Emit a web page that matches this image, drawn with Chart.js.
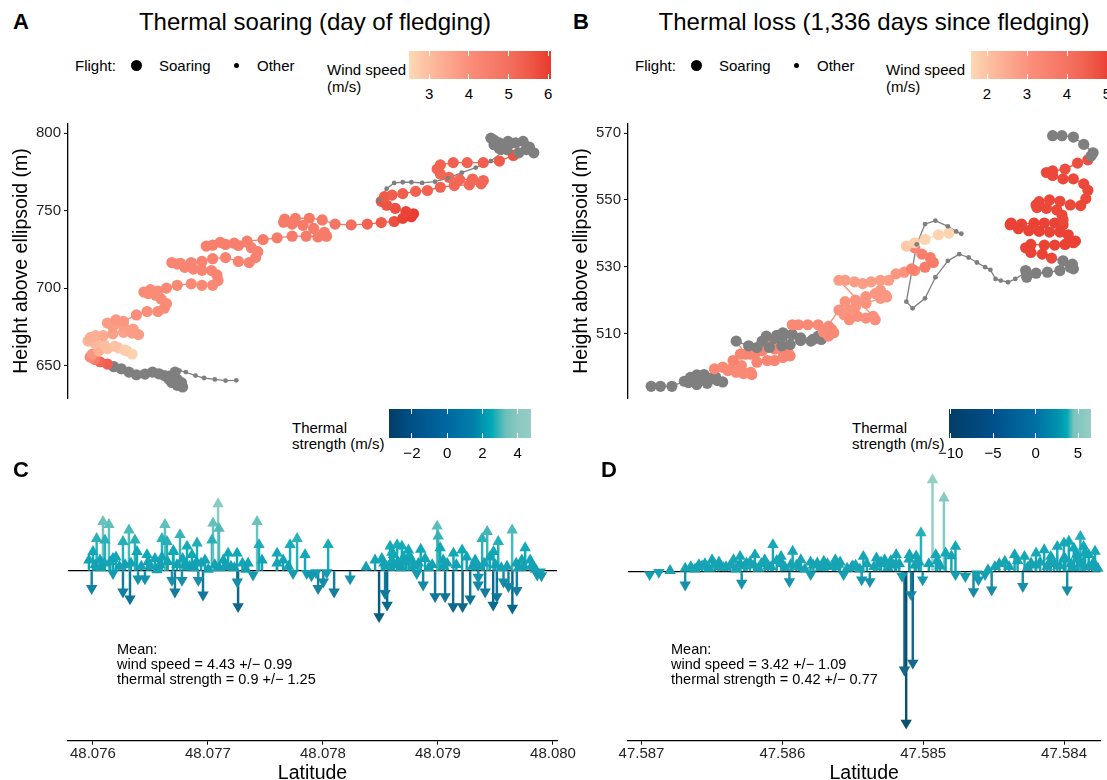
<!DOCTYPE html>
<html>
<head>
<meta charset="utf-8">
<title>Thermal soaring and thermal loss</title>
<script src="https://cdn.jsdelivr.net/npm/chart.js@4.4.1/dist/chart.umd.min.js"></script>
<style>
  body { margin:0; width:1107px; height:780px; overflow:hidden; background:#fff; position:relative;
         font-family:"Liberation Sans", Arial, sans-serif; color:#000; }
  canvas { position:absolute; }
  .t { position:absolute; white-space:nowrap; line-height:1; }
  .tag { font-weight:bold; font-size:22px; }
  .title { font-size:24px; transform:translateX(-50%); }
  .leg { font-size:15px; }
  .mean { font-size:14.5px; }
  .dot { position:absolute; border-radius:50%; background:#000; }
</style>
</head>
<body>
<canvas id="chartA" width="560" height="300" style="left:0;top:110px"></canvas>
<canvas id="chartB" width="547" height="300" style="left:560px;top:110px"></canvas>
<canvas id="chartC" width="600" height="330" style="left:0;top:460px"></canvas>
<canvas id="chartD" width="547" height="330" style="left:560px;top:460px"></canvas>

<div class="t tag" style="left:13px;top:11px">A</div>
<div class="t tag" style="left:573px;top:11px">B</div>
<div class="t tag" style="left:13px;top:459px">C</div>
<div class="t tag" style="left:601px;top:459px">D</div>
<div class="t title" style="left:315px;top:10px">Thermal soaring (day of fledging)</div>
<div class="t title" style="left:874px;top:10px">Thermal loss (1,336 days since fledging)</div>

<div class="t mean" style="left:117px;top:642px;line-height:15px">Mean:<br>wind speed = 4.43 +/− 0.99<br>thermal strength = 0.9 +/− 1.25</div>
<div class="t mean" style="left:671px;top:642px;line-height:15px">Mean:<br>wind speed = 3.42 +/− 1.09<br>thermal strength = 0.42 +/− 0.77</div>

<script>
// ---------- panel A: track on the day of fledging ----------
// [east offset, height above ellipsoid (m)]  (+ wind speed m/s where measured)
const aOtherStart = [[220,640.5],[210,640.3],[200,641.1],[190,642.0],[182,643.6],[173,645.8],[167,646.8],[163,647.5]];
const aSoarGreyLow = [[163,645.8],[158,643.2],[157,641.5],[160,639.0],[165,637.3],[170,636.2],[169,639.0],[165,641.1],
  [159,642.6],[153,643.6],[148,644.7],[142,645.8],[135,644.5],[127,644.1],[120,645.8],[113,647.9],[106,649.3]];
const aSoarWind = [
  [100,651.0,5.4],[93,652.5,5.2],[88,654.0,4.6],[84,655.5,4.2],[86,657.5,3.8],[92,659.5,3.3],[100,661.0,3.0],[110,661.5,2.8],
  [118,659.5,2.7],[123,657.5,2.6],[116,660.0,2.7],[107,662.5,2.9],[97,663.5,3.0],[88,664.5,3.1],[82,665.8,3.2],[84,668.0,3.3],
  [89,669.3,3.3],[96,669.3,3.4],[105,670.5,3.6],[115,671.5,3.6],[123,671.0,3.7],[129,670.0,3.7],[124,673.5,3.7],[115,675.5,3.7],
  [105,675.0,3.7],[100,677.5,3.7],[108,679.6,3.8],[115,678.5,3.8],[127,682.7,4.0],[137,684.9,4.0],[147,684.9,4.1],[153,687.0,4.1],
  [155,690.0,4.1],[150,693.0,4.1],[145,695.4,4.1],[138,696.5,4.1],[134,697.5,4.1],[140,699.0,4.1],[147,698.0,4.1],[155,700.0,4.2],
  [165,701.8,4.2],[178,702.8,4.2],[188,701.8,4.2],[198,701.8,4.2],[203,704.9,4.2],[202,708.5,4.3],[197,711.3,4.3],[188,711.5,4.3],
  [180,712.3,4.3],[172,713.4,4.3],[165,715.5,4.3],[160,716.5,4.3],[168,716.0,4.3],[178,716.5,4.3],[188,717.2,4.4],[198,719.0,4.4],
  [210,719.7,4.4],[222,717.2,4.4],[232,716.5,4.4],[238,719.7,4.4],[240,723.5,4.4],[234,726.1,4.4],[222,727.5,4.5],[210,728.2,4.5],
  [198,727.7,4.5],[192,727.1,4.5],[205,729.5,4.5],[218,729.0,4.5],[230,730.3,4.5],[245,731.3,4.6],[258,732.4,4.6],[272,733.5,4.6],
  [285,733.5,4.6],[296,733.0,4.6],[304,733.5,4.6],[302,736.0,4.6],[292,738.5,4.6],[282,740.5,4.6],[272,741.3,4.6],[264,742.5,4.6],
  [265,744.5,4.6],[275,745.0,4.6],[288,745.1,4.7],[300,744.0,4.7],[312,741.3,4.8],[327,740.8,5.0],[342,741.3,5.3],[355,742.3,5.5],
  [367,743.0,5.7],[375,745.0,5.9],[383,746.1,6.0],[385,748.0,6.0],[378,749.3,5.9],[368,751.5,5.7],[360,753.5,5.6],[355,756.0,5.6],
  [358,759.0,5.5],[365,760.0,5.4],[375,761.0,5.4],[387,762.4,5.3],[398,763.0,5.3],[410,765.1,5.3],[423,766.2,5.2],[437,766.6,5.2],
  [448,767.3,5.2],[450,769.4,5.2],[440,770.4,5.2],[428,770.0,5.2],[418,771.5,5.2],[410,773.6,5.2],[407,776.8,5.3],[410,779.5,5.3],
  [422,781.0,5.3],[435,781.0,5.3],[450,781.0,5.4],[465,782.0,5.5],[478,785.6,5.6]];
const aSoarGreyTop = [[483,787.3],[490,789.4],[497,787.3],[493,791.0],[487,794.7],[480,793.7],[473,794.7],[465,793.7],
  [460,795.5],[457,796.8],[460,792.5],[465,790.0],[472,789.4]];
const aOtherTop = [[485,794.7],[477,791.6],[467,787.3],[457,782.0],[443,777.8],[430,774.5],[417,771.0],[405,768.7],
  [393,767.9],[383,768.3],[375,768.3],[367,767.9],[360,764.2],[353,756.7]];
const aHeightTicks = [650, 700, 750, 800];
const aWindTicks = [3, 4, 5, 6];

// ---------- panel B: track 1,336 days after fledging ----------
const bSoarGreyLow = [[86,494.3],[95,494.3],[106,494.3],[118,495.8],[124,497.0],[130,497.7],[137,497.8],[144,496.6],
  [150,496.0],[155,495.6],[146,497.0],[138,496.2],[128,496.5],[122,495.4],[130,494.8],[140,495.2],[148,497.2]];
const bSoarWindLow = [[147,499.5,3.3],[155,500.0,3.3],[163,499.5,3.3],[173,500.5,3.3],[182,498.5,3.3],[183,497.8,3.3],
  [175,498.1,3.3],[168,498.5,3.3],[160,499.0,3.3],[165,502.0,3.4],[172,503.9,3.4],[182,503.9,3.4],[188,501.5,3.4],
  [198,502.0,3.4],[205,502.0,3.4],[213,502.9,3.4],[220,503.4,3.4],[218,504.4,3.4],[213,504.9,3.4],[205,505.4,3.4],
  [200,506.4,3.4],[193,504.9,3.4],[187,504.4,3.4],[177,503.9,3.4]];
const bSoarGreyMid = [[168,507.8],[180,506.4],[188,505.9],[200,505.9],[212,506.4],[220,506.8],[213,509.3],[207,509.5],
  [197,509.3],[193,507.8],[205,508.6],[213,510.3],[222,509.8],[230,508.8],[240,507.8],[250,508.3],[247,509.3],[242,508.3],[230,508.0]];
const bSoarWindMid = [[222,512.7,3.3],[228,512.7,3.3],[237,512.7,3.3],[247,512.7,3.3],[257,512.2,3.3],[260,511.3,3.3],
  [262,510.3,3.3],[257,509.3,3.3],[252,510.5,3.2],[267,517.1,3.0],[273,519.6,3.0],[283,520.1,3.0],[293,521.1,3.0],
  [302,522.0,2.9],[307,523.0,2.9],[312,521.5,2.9],[313,521.0,2.9],[307,520.6,2.9],[293,519.1,3.0],[283,518.1,3.0],
  [277,517.1,3.0],[272,515.7,3.0],[277,514.2,3.1],[285,515.2,3.1],[293,514.7,3.1],[302,514.2,3.1],[300,515.2,3.1],
  [267,526.0,2.8],[273,526.0,2.8],[282,525.5,2.8],[290,525.0,2.8],[298,525.5,2.8],[307,526.0,2.8],[315,526.0,2.8],
  [322,527.9,2.9],[330,528.4,3.0],[340,528.9,3.3],[337,529.4,3.6],[350,529.9,3.7],[358,531.3,3.7],[355,532.8,3.7],
  [347,533.8,3.6],[340,535.7,3.4],[332,536.2,1.9],[340,537.2,1.8],[350,538.2,1.7],[363,539.6,1.7],[373,540.1,1.7]];
const bOtherMid = [[385,539.9],[380,540.6],[372,542.1],[360,543.8],[350,542.8],[342,536.7],[332,519.6],[338,517.6],
  [350,520.6],[360,526.9],[372,531.8],[383,533.8],[392,532.8],[400,531.3],[408,529.9],[413,529.1],[418,526.4],
  [423,525.9],[430,525.4],[437,526.4],[445,527.9]];
const bSoarGreyRight = [[447,528.9],[448,526.9],[457,528.1],[468,528.4],[480,528.9],[490,529.9],[493,529.4],[492,530.8],[483,531.8]];
const bSoarWindHigh = [[472,532.6,4.9],[463,533.8,5.0],[452,534.3,5.0],[447,535.7,5.0],[452,536.7,5.0],[465,536.5,5.0],
  [475,536.5,5.0],[485,536.7,5.0],[493,537.2,5.0],[495,537.7,5.0],[488,539.6,5.0],[480,540.4,5.0],[470,540.4,5.0],
  [460,540.6,5.0],[450,540.8,5.0],[440,541.4,5.0],[432,542.6,5.0],[433,543.1,5.0],[443,542.8,5.0],[455,543.1,5.0],
  [465,543.1,5.0],[475,543.1,5.0],[483,542.6,5.0],[483,544.1,4.9],[482,545.5,4.9],[477,547.0,4.9],[467,547.5,4.9],
  [458,547.7,4.9],[457,548.5,4.9],[460,549.5,4.9],[470,550.0,4.9],[480,549.6,4.9],[490,548.5,4.9],[500,548.3,4.9],
  [505,550.4,4.9],[507,552.9,4.9],[503,554.8,4.9],[493,556.3,4.9],[483,556.3,4.9],[473,557.3,4.9],[467,558.2,4.9],
  [473,558.7,4.9],[485,559.2,4.8],[497,561.0,4.8],[507,562.0,4.8]];
const bSoarGreyTop = [[510,563.1],[512,564.1],[503,566.6],[493,568.8],[482,569.2],[473,569.2]];
const bHeightTicks = [510, 530, 550, 570];
const bWindTicks = [2, 3, 4, 5];

// ---------- panels C / D: thermal strength (m/s) along latitude ----------
const cArrows = [
  [48.075989,-1.13],[48.075965,0.70],[48.076000,1.25],[48.076032,2.10],[48.076087,3.20],[48.076139,3.00],[48.076104,2.00],
  [48.076061,0.70],[48.076174,-0.15],[48.076174,0.80],[48.076261,-1.35],[48.076261,1.90],[48.076322,-1.80],[48.076313,2.65],
  [48.076365,2.00],[48.076383,1.25],[48.076392,-0.50],[48.076452,-0.50],[48.076470,1.05],[48.076539,0.80],[48.076557,0.07],
  [48.076600,2.10],[48.076626,3.00],[48.076644,1.90],[48.076687,-0.60],[48.076713,-1.35],[48.076696,1.25],[48.076757,2.35],
  [48.076774,-0.60],[48.076818,1.60],[48.076861,1.05],[48.076905,1.80],[48.076916,-0.60],[48.076957,-1.55],[48.076974,0.70],
  [48.077003,0.10],[48.077035,2.00],[48.077044,3.10],[48.077088,4.35],[48.077096,2.75],[48.077134,0.70],[48.077175,1.15],
  [48.077253,1.15],[48.077255,-0.70],[48.077262,-2.30],[48.077349,0.50],[48.077392,-0.25],[48.077427,3.20],[48.077444,1.70],
  [48.077470,0.70],[48.077601,1.15],[48.077654,0.70],[48.077714,1.70],[48.077740,-0.15],[48.077775,2.10],[48.077844,1.05],
  [48.077859,-0.15],[48.077940,-0.10],[48.077958,-1.13],[48.078003,-0.70],[48.078033,-0.10],[48.078045,1.70],[48.078097,-1.35],
  [48.078236,-0.50],[48.078375,0.25],[48.078453,0.70],[48.078488,-2.95],[48.078512,0.80],[48.078540,-1.45],[48.078558,-2.20],
  [48.078584,1.60],[48.078613,1.05],[48.078645,1.70],[48.078686,1.60],[48.078700,0.90],[48.078743,1.35],[48.078773,0.70],
  [48.078816,-0.15],[48.078871,-0.90],[48.078888,0.80],[48.078975,-1.65],[48.078993,2.90],[48.079002,2.25],[48.079019,1.50],
  [48.079045,0.70],[48.079062,-1.65],[48.079132,-2.30],[48.079135,1.15],[48.079210,1.35],[48.079214,-2.30],[48.079280,-1.80],
  [48.079323,0.70],[48.079349,-0.90],[48.079384,2.10],[48.079410,-1.35],[48.079428,2.55],[48.079480,-2.20],[48.079483,1.25],
  [48.079512,-1.65],[48.079524,1.90],[48.079570,-0.70],[48.079613,-1.00],[48.079645,2.65],[48.079647,-2.40],[48.079686,-1.25],
  [48.079729,0.70],[48.079758,1.50],[48.079802,0.70],[48.079863,-0.25],[48.079889,-0.05],
  [48.076100,0.50],[48.076200,0.90],[48.076280,0.40],[48.076500,0.30],[48.076600,0.90],[48.076700,1.30],[48.076800,0.40],
  [48.076900,0.60],[48.077100,0.20],[48.077200,0.30],[48.077300,0.50],[48.077600,0.50],[48.077700,0.30],[48.077900,-0.30],
  [48.078600,1.20],[48.078650,0.60],[48.078750,1.00],[48.078850,1.40],[48.078950,0.40],[48.079050,0.30],[48.079250,0.90],
  [48.079350,0.30],[48.079450,0.90],[48.079550,0.20],[48.079750,0.30],[48.079900,-0.30],[48.079350,-0.40],
  [48.076020,0.40],[48.076070,0.20],[48.076150,0.60],[48.076230,0.30],[48.076330,0.50],[48.076420,0.30],[48.076480,0.60],
  [48.076580,0.40],[48.076650,0.60],[48.076730,0.40],[48.076780,0.80],[48.076840,0.30],[48.076880,0.20],[48.076940,0.50],
  [48.077060,0.40],[48.077150,0.30],[48.077230,0.20],[48.077330,0.10],[48.078530,0.50],[48.078570,0.30],[48.078620,0.40],
  [48.078680,0.20],[48.078720,0.60],[48.078790,0.30],[48.078830,0.50],[48.078920,0.20],[48.079080,0.50],[48.079160,0.40],
  [48.079300,0.30],[48.079400,0.50],[48.079500,0.40],[48.079600,0.30],[48.079680,0.50],[48.079700,0.20],[48.079820,0.40],
  [48.079850,0.10]];
const dArrows = [
  [47.586942,-0.20],[47.586877,-0.05],[47.586797,0.05],[47.586690,-0.87],[47.586690,0.20],[47.586650,0.30],[47.586592,0.43],
  [47.586499,0.75],[47.586452,0.30],[47.586347,0.75],[47.586300,0.97],[47.586289,-0.76],[47.586254,0.54],[47.586195,1.08],
  [47.586125,0.75],[47.586067,1.73],[47.586009,0.97],[47.585950,-0.65],[47.585927,1.30],[47.585869,0.75],[47.585799,-0.20],
  [47.585752,0.54],[47.585706,0.65],[47.585624,0.75],[47.585565,-0.20],[47.585507,0.30],[47.585437,-0.54],[47.585425,0.97],
  [47.585379,-0.65],[47.585332,0.87],[47.585274,0.75],[47.585192,1.08],[47.585133,-6.40],[47.585121,-9.85],[47.585086,-1.50],
  [47.585074,-5.95],[47.585098,1.08],[47.585016,2.50],[47.585004,-0.54],[47.584934,5.95],[47.584911,1.08],[47.584853,4.76],
  [47.584841,1.19],[47.584771,1.62],[47.584771,-0.20],[47.584701,-0.32],[47.584643,-1.30],[47.584608,-0.54],[47.584561,-0.20],
  [47.584514,-1.19],[47.584491,0.30],[47.584421,0.65],[47.584351,1.08],[47.584293,-0.97],[47.584281,0.97],[47.584234,0.54],
  [47.584199,1.19],[47.584141,1.40],[47.584094,0.97],[47.584048,1.62],[47.584001,1.84],[47.583978,-1.19],[47.583966,1.95],
  [47.583931,1.51],[47.583884,2.27],[47.583861,1.62],[47.583825,1.08],[47.583825,0.30],
  [47.586600,0.30],[47.586550,0.50],[47.586450,0.60],[47.586400,0.30],[47.586300,0.50],[47.586200,0.40],[47.586100,0.35],
  [47.586000,0.50],[47.585900,0.40],[47.585800,0.60],[47.585700,0.30],[47.585600,0.45],[47.585500,0.35],[47.585400,0.50],
  [47.585300,0.60],[47.585200,0.40],[47.585100,0.80],[47.585050,1.00],[47.584900,0.70],[47.584800,1.00],[47.584200,0.40],
  [47.584100,0.60],[47.584000,0.90],[47.583950,0.50],[47.583900,0.80],[47.583850,1.20],[47.583800,0.30],[47.583780,1.30],
  [47.586620,0.15],[47.586570,0.35],[47.586520,0.20],[47.586480,0.45],[47.586420,0.25],[47.586370,0.40],[47.586330,0.15],
  [47.586270,0.35],[47.586230,0.60],[47.586170,0.20],[47.586150,0.50],[47.586080,0.30],[47.586040,0.70],[47.585980,0.25],
  [47.585940,0.45],[47.585880,0.30],[47.585840,0.15],[47.585780,0.40],[47.585730,0.25],[47.585680,0.50],[47.585640,0.30],
  [47.585590,0.60],[47.585540,0.20],[47.585480,0.40],[47.585450,0.15],[47.585350,0.30],[47.585310,0.50],[47.585250,0.25],
  [47.585230,0.70],[47.585170,0.50],[47.585150,-0.30],[47.585060,0.40],[47.585030,0.60],[47.584960,0.50],[47.584880,0.35],
  [47.584620,-0.15],[47.584540,0.10],[47.584460,0.50],[47.584390,0.30],[47.584330,0.70],[47.584260,0.25],[47.584170,0.60],
  [47.584120,0.30],[47.584070,0.50],[47.584030,0.35],[47.583990,0.80],[47.583940,0.25],[47.583910,1.10],[47.583870,0.50],
  [47.583790,0.60],[47.583760,0.20]];
const cLatTicks = [48.076, 48.077, 48.078, 48.079, 48.080];
const dLatTicks = [47.587, 47.586, 47.585, 47.584];
const cThermalTicks = [-2, 0, 2, 4];
const dThermalTicks = [-10, -5, 0, 5];

// colour ramps  [value, colour]
const GREY = '#7f7f7f';
const aWindStops = [[2.49,'#fdd9b4'],[3.0,'#fdbd9f'],[4.0,'#fa8e7a'],[5.0,'#f46f5e'],[5.5,'#ef5a49'],[6.07,'#e8392e']];
const bWindStops = [[1.6,'#fdd9b4'],[2.1,'#fdbd9f'],[3.1,'#fa8e7a'],[4.1,'#f46f5e'],[4.6,'#ef5a49'],[5.15,'#e8392e']];
const cBarStops = [[-3.3,'#023d66'],[-2.1,'#004f86'],[0,'#0068a0'],[1.5,'#0080aa'],[2.5,'#00a9b5'],[3.3,'#6cbfba'],[4.0,'#8ac8c0'],[4.75,'#96cdc6']];
const dBarStops = [[-10.2,'#023d66'],[-5,'#00508a'],[0,'#0070a4'],[2.5,'#0090ae'],[3.7,'#00a9b5'],[4.5,'#7cc4bc'],[6.53,'#96cdc6']];
const cArrowStops = [[-3.2,'#07587a'],[-2,'#0d6e92'],[-1,'#1585a5'],[0,'#159fb2'],[1.5,'#0eaab8'],[2.5,'#3fb6b8'],[3.2,'#6cc2bc'],[4.5,'#8ecdc3']];
const dArrowStops = [[-10,'#0b4f6b'],[-6,'#14698a'],[-1.5,'#1686a4'],[-0.5,'#1598ae'],[0,'#17a2b2'],[2,'#12aab8'],[4.5,'#80c9c0'],[6,'#92cfc5']];

Chart.defaults.font.family = '"Liberation Sans", Arial, sans-serif';
Chart.defaults.color = '#1f1f1f';

function hexRgb(h) { return [1,3,5].map(i => parseInt(h.slice(i, i+2), 16)); }
function rampColor(stops, v) {
  if (v <= stops[0][0]) return stops[0][1];
  for (let i = 1; i < stops.length; i++) {
    if (v <= stops[i][0]) {
      const t = (v - stops[i-1][0]) / (stops[i][0] - stops[i-1][0]);
      const a = hexRgb(stops[i-1][1]), b = hexRgb(stops[i][1]);
      return 'rgb(' + a.map((x, k) => Math.round(x + (b[k] - x) * t)).join(',') + ')';
    }
  }
  return stops[stops.length-1][1];
}

function addText(txt, left, top, cls, extra) {
  const d = document.createElement('div');
  d.className = 't ' + (cls || '');
  d.style.left = left + 'px'; d.style.top = top + 'px';
  if (extra) Object.assign(d.style, extra);
  d.textContent = txt;
  document.body.appendChild(d);
}

function colorbar(left, top, w, h, stops, ticks) {
  const vmin = stops[0][0], vmax = stops[stops.length-1][0];
  const bar = document.createElement('div');
  bar.style.cssText = `position:absolute;left:${left}px;top:${top}px;width:${w}px;height:${h}px;`;
  bar.style.background = 'linear-gradient(to right,' +
    stops.map(s => s[1] + ' ' + ((s[0]-vmin)/(vmax-vmin)*100).toFixed(2) + '%').join(',') + ')';
  document.body.appendChild(bar);
  ticks.forEach(t => {
    const px = (t - vmin) / (vmax - vmin) * w;
    [0, h - 5].forEach(y => {
      const m = document.createElement('div');
      m.style.cssText = `position:absolute;left:${left+px-0.5}px;top:${top+y}px;width:1px;height:5px;background:#fff;`;
      document.body.appendChild(m);
    });
    addText(String(t).replace('-', '−'), left + px, top + h + 7, 'leg', {transform:'translateX(-50%)'});
  });
}

function flightLegend(x0) {
  addText('Flight:', x0, 58, 'leg');
  const big = document.createElement('div'); big.className = 'dot';
  big.style.cssText += `left:${x0+55.5}px;top:59.5px;width:11px;height:11px;`;
  const small = document.createElement('div'); small.className = 'dot';
  small.style.cssText += `left:${x0+158.5}px;top:62.5px;width:5px;height:5px;`;
  document.body.appendChild(big); document.body.appendChild(small);
  addText('Soaring', x0 + 84, 58, 'leg');
  addText('Other', x0 + 182, 58, 'leg');
}

function trackChart(id, segments, windStops, xMin, xMax, yMin, yMax, yTicks) {
  const pts = [];
  segments.forEach(s => s.rows.forEach(r => pts.push({ x: r[0], y: r[1], wind: s.wind ? r[2] : null, soar: s.soar })));
  const cols = pts.map(p => p.wind == null ? GREY : rampColor(windStops, p.wind));
  new Chart(document.getElementById(id), {
    type: 'line',
    data: { datasets: [{
      data: pts,
      borderWidth: 1.3,
      borderColor: GREY,
      segment: { borderColor: c => cols[c.p0DataIndex] },
      pointRadius: pts.map(p => p.soar ? 5.6 : 2.4),
      pointBackgroundColor: cols,
      pointBorderWidth: 0,
      tension: 0,
      clip: false
    }]},
    options: {
      responsive: false, animation: false, devicePixelRatio: 1, events: [],
      layout: { padding: { top: 14, bottom: 7, left: 0, right: id === 'chartA' ? 13 : 0 } },
      plugins: { legend: { display: false }, tooltip: { enabled: false } },
      scales: {
        x: { type: 'linear', min: xMin, max: xMax, display: false },
        y: {
          min: yMin, max: yMax,
          afterBuildTicks: s => { s.ticks = yTicks.map(v => ({ value: v })); },
          afterFit: s => { s.width = 68; },
          ticks: { font: { size: 15 }, color: '#1f1f1f', padding: 3 },
          grid: { drawOnChartArea: false, drawTicks: true, tickLength: 4, color: '#000', lineWidth: 1 },
          border: { display: true, color: '#000', width: 1.3 },
          title: { display: true, text: 'Height above ellipsoid (m)', font: { size: 19.5 }, color: '#000', padding: { top: 10, bottom: 0 } }
        }
      }
    }
  });
}

function arrowChart(id, arrows, stops, xMin, xMax, ticks, reverse, pad) {
  const cols = arrows.map(a => rampColor(stops, a[1]));
  new Chart(document.getElementById(id), {
    type: 'bar',
    data: { datasets: [
      { type: 'scatter', order: 0, data: arrows.map(a => ({ x: a[0], y: a[1] })),
        pointStyle: 'triangle', pointRadius: 6.6, pointRotation: arrows.map(a => a[1] < 0 ? 180 : 0),
        pointBackgroundColor: cols, pointBorderWidth: 0, clip: false },
      { type: 'bar', order: 1, data: arrows.map(a => ({ x: a[0], y: [0, a[1]] })),
        backgroundColor: cols, barThickness: 1.8, borderWidth: 0 }
    ]},
    options: {
      responsive: false, animation: false, devicePixelRatio: 1, events: [],
      layout: { padding: pad },
      plugins: { legend: { display: false }, tooltip: { enabled: false } },
      scales: {
        x: {
          type: 'linear', min: xMin, max: xMax, reverse: reverse, offset: false,
          afterBuildTicks: s => { s.ticks = ticks.map(v => ({ value: v })); },
          afterFit: s => { s.height = 49.3; },
          ticks: { font: { size: 15 }, color: '#1f1f1f', padding: 0, maxRotation: 0, autoSkip: false,
                   callback: v => Number(v).toFixed(3) },
          grid: { offset: false, drawOnChartArea: false, drawTicks: true, tickLength: 4, color: '#000' },
          border: { display: true, color: '#000', width: 1.3 },
          title: { display: true, text: 'Latitude', font: { size: 19.5 }, color: '#000', padding: { top: 0, bottom: 5 } }
        },
        y: {
          min: -11, max: 6.5,
          afterBuildTicks: s => { s.ticks = [{ value: 0 }]; },
          afterFit: s => { s.width = 0; },
          ticks: { display: false },
          grid: { color: '#000', lineWidth: 1.2, drawTicks: false },
          border: { display: false }
        }
      }
    }
  });
}

// ---------- build ----------
trackChart('chartA', [
  { rows: aOtherStart, soar: false, wind: false },
  { rows: aSoarGreyLow, soar: true, wind: false },
  { rows: aSoarWind, soar: true, wind: true },
  { rows: aSoarGreyTop, soar: true, wind: false },
  { rows: aOtherTop, soar: false, wind: false }
], aWindStops, 63.3, 509.3, 629.1, 805.9, aHeightTicks);

trackChart('chartB', [
  { rows: bSoarGreyLow, soar: true, wind: false },
  { rows: bSoarWindLow, soar: true, wind: true },
  { rows: bSoarGreyMid, soar: true, wind: false },
  { rows: bSoarWindMid, soar: true, wind: true },
  { rows: bOtherMid, soar: false, wind: false },
  { rows: bSoarGreyRight, soar: true, wind: false },
  { rows: bSoarWindHigh, soar: true, wind: true },
  { rows: bSoarGreyTop, soar: true, wind: false }
], bWindStops, 63.7, 520.0, 490.8, 572.7, bHeightTicks);

arrowChart('chartC', cArrows, cArrowStops, 48.075783, 48.080035, cLatTicks, false, { top: 10.7, bottom: 0, left: 68, right: 43 });
arrowChart('chartD', dArrows, dArrowStops, 47.583742, 47.587096, dLatTicks, true, { top: 11.4, bottom: 0, left: 68, right: 0 });

// legends
flightLegend(75);
flightLegend(635);
addText('Wind speed', 327, 62, 'leg'); addText('(m/s)', 327, 79, 'leg');
addText('Wind speed', 886, 62, 'leg'); addText('(m/s)', 886, 79, 'leg');
colorbar(409, 51, 142, 28, aWindStops, aWindTicks);
colorbar(971, 51, 142, 28, bWindStops, bWindTicks);
addText('Thermal', 292, 420, 'leg'); addText('strength (m/s)', 292, 436, 'leg');
addText('Thermal', 852, 420, 'leg'); addText('strength (m/s)', 852, 436, 'leg');
colorbar(389, 409, 142, 29, cBarStops, cThermalTicks);
colorbar(949, 409, 142, 29, dBarStops, dThermalTicks);
</script>
</body>
</html>
